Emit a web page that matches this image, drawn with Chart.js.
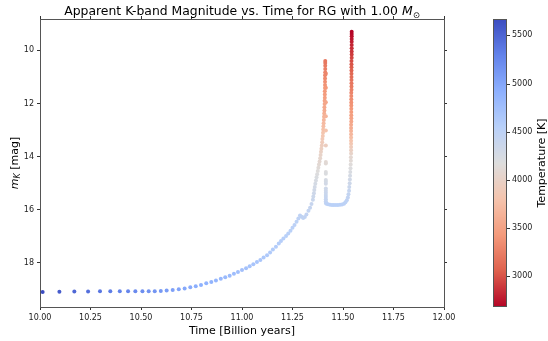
<!DOCTYPE html>
<html>
<head>
<meta charset="utf-8">
<script src="https://cdn.jsdelivr.net/npm/chart.js@4.4.0/dist/chart.umd.min.js"></script>
<style>
  body { margin: 0; background: #fff; }
  canvas { display: block; }
</style>
</head>
<body>
<canvas id="kband" width="548" height="341"></canvas>
<script>
// Apparent K-band magnitude vs time, 1.00 Msun red giant track

// time in billion years (evolution order)
const timeGyr = [
    // main sequence turn-off / subgiant
    10.013, 10.096, 10.170, 10.238, 10.297, 10.348, 10.395, 10.436, 10.472, 10.507,
    10.538, 10.568, 10.598, 10.627, 10.657, 10.687, 10.716, 10.744, 10.771, 10.797,
    10.823, 10.848, 10.871, 10.895, 10.917, 10.939, 10.960, 10.980, 11.000, 11.020,
    11.038, 11.056, 11.074, 11.091, 11.107, 11.124, 11.139, 11.153, 11.168, 11.182,
    // red giant branch + bump
    11.193, 11.205, 11.218, 11.229, 11.240, 11.250, 11.260, 11.270, 11.279, 11.287,
    11.295, 11.303, 11.311, 11.319, 11.329, 11.337, 11.344,
    // upper RGB up to the tip
    11.351, 11.353, 11.356, 11.358, 11.360, 11.363, 11.366, 11.369, 11.372, 11.375,
    11.378, 11.381, 11.384, 11.387, 11.389, 11.391, 11.393, 11.395, 11.397, 11.398,
    11.400, 11.401, 11.402, 11.403, 11.404, 11.405, 11.406, 11.407, 11.408, 11.408,
    11.409, 11.409, 11.410, 11.410, 11.410, 11.411, 11.411, 11.411, 11.411, 11.411,
    11.412, 11.412, 11.412, 11.412, 11.412,
    // helium flash, drop back down
    11.415, 11.415, 11.415, 11.415, 11.415, 11.415, 11.415, 11.415, 11.415, 11.415,
    11.415, 11.415, 11.415, 11.415, 11.415, 11.415, 11.415, 11.415, 11.415, 11.415,
    11.415,
    // core helium burning
    11.418, 11.426, 11.436, 11.446, 11.455, 11.465, 11.475, 11.485, 11.495, 11.505,
    11.512, 11.519, 11.524, 11.527, 11.530, 11.531, 11.533, 11.534, 11.535, 11.536,
    11.537, 11.538, 11.539, 11.539,
    // asymptotic giant branch
    11.540, 11.540, 11.540, 11.540, 11.540, 11.540, 11.540, 11.540, 11.540, 11.540,
    11.541, 11.541, 11.541, 11.541, 11.541, 11.541, 11.541, 11.541, 11.541, 11.541,
    11.542, 11.542, 11.542, 11.542, 11.542, 11.542, 11.542, 11.542, 11.542, 11.542,
    11.543, 11.543, 11.543, 11.543, 11.543, 11.543, 11.543, 11.543, 11.543, 11.543
];

// apparent K-band magnitude
const magK = [
    19.10, 19.09, 19.08, 19.08, 19.07, 19.07, 19.07, 19.07, 19.07, 19.07,
    19.07, 19.07, 19.06, 19.04, 19.02, 18.99, 18.96, 18.92, 18.88, 18.83,
    18.77, 18.72, 18.66, 18.60, 18.54, 18.48, 18.41, 18.34, 18.27, 18.20,
    18.13, 18.05, 17.97, 17.89, 17.80, 17.71, 17.61, 17.50, 17.39, 17.27,
    17.18, 17.08, 16.99, 16.89, 16.79, 16.68, 16.57, 16.45, 16.33, 16.22,
    16.26, 16.31, 16.27, 16.18, 16.04, 15.92, 15.78,
    15.62, 15.50, 15.38, 15.26, 15.14, 15.02, 14.90, 14.78, 14.66, 14.54,
    14.42, 14.30, 14.18, 14.06, 13.94, 13.82, 13.70, 13.58, 13.46, 13.34,
    13.22, 13.10, 12.98, 12.86, 12.74, 12.62, 12.50, 12.38, 12.26, 12.14,
    12.02, 11.90, 11.78, 11.66, 11.54, 11.42, 11.30, 11.18, 11.06, 10.94,
    10.82, 10.70, 10.58, 10.48, 10.40,
    10.88, 11.41, 11.95, 12.48, 13.02, 13.58, 14.20, 14.26, 14.58, 14.64,
    14.88, 14.95, 15.02, 15.20, 15.28, 15.36, 15.44, 15.52, 15.60, 15.68,
    15.75,
    15.77, 15.79, 15.81, 15.82, 15.82, 15.82, 15.82, 15.81, 15.80, 15.77,
    15.72, 15.64, 15.54, 15.42, 15.28, 15.14, 15.00, 14.86, 14.72, 14.58,
    14.44, 14.30, 14.16, 14.02,
    13.88, 13.76, 13.64, 13.52, 13.40, 13.28, 13.16, 13.04, 12.92, 12.80,
    12.68, 12.56, 12.44, 12.32, 12.20, 12.08, 11.96, 11.84, 11.72, 11.60,
    11.48, 11.36, 11.24, 11.12, 11.00, 10.88, 10.76, 10.64, 10.52, 10.40,
    10.28, 10.16, 10.04, 9.92, 9.80, 9.68, 9.57, 9.47, 9.38, 9.30
];

// effective temperature [K]
const tempK = [
    5670, 5560, 5480, 5420, 5370, 5330, 5290, 5260, 5230, 5200,
    5170, 5140, 5110, 5080, 5050, 5020, 4990, 4960, 4940, 4910,
    4890, 4870, 4850, 4830, 4810, 4790, 4770, 4750, 4735, 4720,
    4705, 4690, 4675, 4660, 4645, 4630, 4615, 4600, 4590, 4580,
    4570, 4560, 4550, 4540, 4530, 4520, 4510, 4500, 4490, 4480,
    4475, 4470, 4460, 4450, 4440, 4420, 4400,
    4375, 4355, 4335, 4315, 4290, 4265, 4240, 4215, 4190, 4160,
    4130, 4100, 4075, 4050, 4020, 3990, 3960, 3930, 3900, 3870,
    3840, 3810, 3775, 3740, 3710, 3675, 3640, 3610, 3580, 3555,
    3530, 3505, 3480, 3455, 3430, 3405, 3380, 3355, 3330, 3305,
    3280, 3255, 3235, 3215, 3200,
    3300, 3420, 3540, 3660, 3800, 3940, 4100, 4115, 4190, 4205,
    4260, 4275, 4290, 4330, 4350, 4370, 4390, 4410, 4430, 4440,
    4450,
    4490, 4510, 4520, 4530, 4530, 4530, 4530, 4530, 4520, 4510,
    4500, 4480, 4460, 4440, 4410, 4380, 4340, 4310, 4270, 4230,
    4190, 4150, 4110, 4080,
    4020, 3965, 3910, 3855, 3800, 3745, 3690, 3640, 3590, 3560,
    3530, 3500, 3470, 3445, 3420, 3395, 3370, 3345, 3320, 3295,
    3265, 3235, 3205, 3175, 3140, 3110, 3075, 3040, 3010, 2975,
    2945, 2910, 2880, 2850, 2815, 2785, 2755, 2730, 2705, 2680
];

const xTicks = [10.00, 10.25, 10.50, 10.75, 11.00, 11.25, 11.50, 11.75, 12.00];
const yTicks = [10, 12, 14, 16, 18];
const tempTicks = [3000, 3500, 4000, 4500, 5000, 5500];

const FONT = "'DejaVu Sans', sans-serif";
const TEXT = '#222';

// matplotlib coolwarm, sampled every 1/8
const CW = [
    [59, 76, 192], [98, 130, 234], [141, 176, 254], [184, 208, 249], [221, 221, 221],
    [245, 196, 173], [244, 154, 123], [222, 96, 77], [180, 4, 38]
];

function coolwarm(p) {
    p = Math.min(1, Math.max(0, p));
    const s = p * (CW.length - 1);
    const i = Math.min(Math.floor(s), CW.length - 2);
    const f = s - i;
    const a = CW[i], b = CW[i + 1];
    const c = [0, 1, 2].map(k => Math.round(a[k] + (b[k] - a[k]) * f));
    return 'rgb(' + c.join(',') + ')';
}

const tMin = Math.min(...tempK);
const tMax = Math.max(...tempK);

// reversed map: hot = blue, cool = red
function tempColor(T) {
    return coolwarm(1 - (T - tMin) / (tMax - tMin));
}

const points = timeGyr.map((t, i) => ({ x: t, y: magK[i] }));

const fixedTicks = vals => scale => { scale.ticks = vals.map(v => ({ value: v })); };

const axisGrid = { display: true, drawOnChartArea: false, drawTicks: true, tickLength: 3, tickColor: '#333', tickWidth: 1 };
const axisBorder = { display: true, color: '#555', width: 1 };

// title, axis labels and the colorbar
const decorations = {
    id: 'decorations',
    afterDraw(chart) {
        const ctx = chart.ctx;
        const area = chart.chartArea;
        const cx = (area.left + area.right) / 2;
        const cy = (area.top + area.bottom) / 2;
        ctx.save();
        ctx.fillStyle = '#000';
        ctx.textBaseline = 'alphabetic';
        ctx.textAlign = 'left';

        // title with M_sun
        const s1 = 'Apparent K-band Magnitude vs. Time for RG with 1.00 ';
        const tf = '12.4px ' + FONT;
        ctx.font = tf;
        const w1 = ctx.measureText(s1).width;
        ctx.font = 'italic ' + tf;
        const w2 = ctx.measureText('M').width;
        ctx.font = '8.5px ' + FONT;
        const w3 = ctx.measureText('\u2299').width;
        let x = cx - (w1 + w2 + w3) / 2;
        ctx.font = tf;
        ctx.fillText(s1, x, 15);
        x += w1;
        ctx.font = 'italic ' + tf;
        ctx.fillText('M', x, 15);
        x += w2;
        ctx.font = '8.5px ' + FONT;
        ctx.fillText('\u2299', x, 18);

        // x label
        ctx.font = '11px ' + FONT;
        ctx.textAlign = 'center';
        ctx.fillText('Time [Billion years]', cx, 334);

        // y label: m_K [mag]
        ctx.save();
        ctx.translate(0, cy);
        ctx.rotate(-Math.PI / 2);
        ctx.textAlign = 'left';
        ctx.font = 'italic 11px ' + FONT;
        const wm = ctx.measureText('m').width;
        ctx.font = 'italic 8px ' + FONT;
        const wk = ctx.measureText('K').width;
        ctx.font = '11px ' + FONT;
        const wr = ctx.measureText(' [mag]').width;
        let u = -(wm + wk + wr) / 2;
        ctx.font = 'italic 11px ' + FONT;
        ctx.fillText('m', u, 18);
        u += wm;
        ctx.font = 'italic 8px ' + FONT;
        ctx.fillText('K', u, 20);
        u += wk;
        ctx.font = '11px ' + FONT;
        ctx.fillText(' [mag]', u, 18);
        ctx.restore();

        // colorbar
        const cbLeft = area.right + 49;
        const cbWidth = 14;
        const h = area.bottom - area.top;
        for (let yy = 0; yy < h; yy++) {
            const T = tMax - (yy + 0.5) / h * (tMax - tMin);
            ctx.fillStyle = tempColor(T);
            ctx.fillRect(cbLeft, area.top + yy, cbWidth, 1);
        }
        ctx.strokeStyle = '#555';
        ctx.lineWidth = 1;
        ctx.strokeRect(cbLeft + 0.5, area.top + 0.5, cbWidth - 1, h - 1);

        ctx.fillStyle = TEXT;
        ctx.font = '8px ' + FONT;
        ctx.textAlign = 'left';
        ctx.textBaseline = 'middle';
        tempTicks.forEach(T => {
            const ty = area.bottom - (T - tMin) / (tMax - tMin) * h;
            ctx.beginPath();
            ctx.moveTo(cbLeft + cbWidth, Math.round(ty) + 0.5);
            ctx.lineTo(cbLeft + cbWidth + 3, Math.round(ty) + 0.5);
            ctx.strokeStyle = '#333';
            ctx.stroke();
            ctx.fillText(String(T), cbLeft + cbWidth + 5, ty);
        });

        ctx.save();
        ctx.translate(cbLeft + cbWidth + 34, cy);
        ctx.rotate(-Math.PI / 2);
        ctx.fillStyle = '#000';
        ctx.textAlign = 'center';
        ctx.textBaseline = 'alphabetic';
        ctx.font = '11px ' + FONT;
        ctx.fillText('Temperature [K]', 0, 4);
        ctx.restore();

        ctx.restore();
    }
};

new Chart(document.getElementById('kband'), {
    type: 'scatter',
    data: {
        datasets: [{
            data: points,
            pointRadius: 2,
            pointHoverRadius: 2,
            pointBorderWidth: 0,
            pointBackgroundColor: tempK.map(tempColor)
        }]
    },
    options: {
        responsive: false,
        animation: false,
        events: [],
        layout: { padding: { top: 19, right: 104, left: 0, bottom: 0 } },
        plugins: {
            legend: { display: false },
            tooltip: { enabled: false },
            title: { display: false }
        },
        scales: {
            x: {
                type: 'linear',
                position: 'bottom',
                min: 10,
                max: 12,
                afterBuildTicks: fixedTicks(xTicks),
                afterFit: s => { s.height = 34; },
                grid: axisGrid,
                border: axisBorder,
                ticks: {
                    color: TEXT,
                    padding: 3,
                    maxRotation: 0,
                    font: { family: FONT, size: 8 },
                    callback: v => v.toFixed(2)
                }
            },
            y: {
                type: 'linear',
                position: 'left',
                reverse: true,
                min: 8.82,
                max: 19.66,
                afterBuildTicks: fixedTicks(yTicks),
                afterFit: s => { s.width = 40; },
                grid: axisGrid,
                border: axisBorder,
                ticks: {
                    color: TEXT,
                    padding: 3,
                    font: { family: FONT, size: 8 },
                    callback: v => String(v)
                }
            },
            x2: {
                type: 'linear',
                position: 'top',
                min: 10,
                max: 12,
                afterBuildTicks: fixedTicks(xTicks),
                afterFit: s => { s.height = 0; },
                grid: axisGrid,
                border: axisBorder,
                ticks: { display: false }
            },
            y2: {
                type: 'linear',
                position: 'right',
                reverse: true,
                min: 8.82,
                max: 19.66,
                afterBuildTicks: fixedTicks(yTicks),
                afterFit: s => { s.width = 0; },
                grid: axisGrid,
                border: axisBorder,
                ticks: { display: false }
            }
        }
    },
    plugins: [decorations]
});
</script>
</body>
</html>
